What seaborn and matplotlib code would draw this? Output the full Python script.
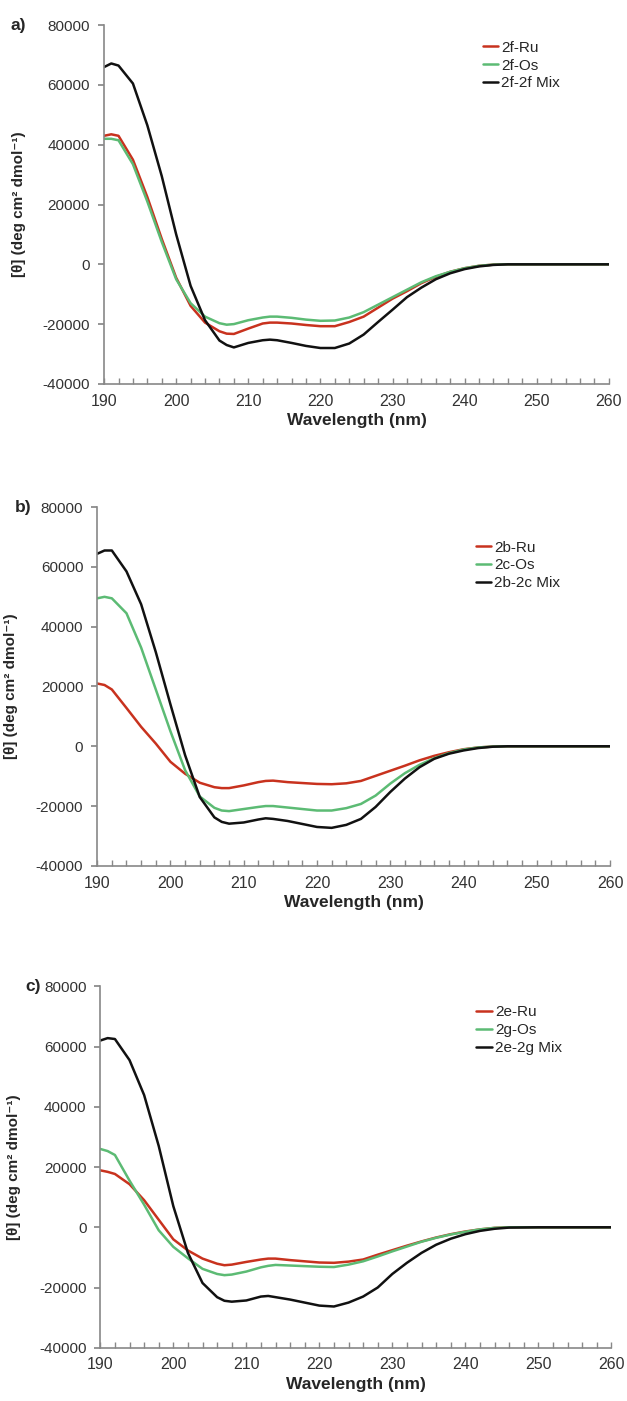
import numpy as np
import pandas as pd
import matplotlib.pyplot as plt
from matplotlib.ticker import MultipleLocator
import seaborn as sns

# wavelength grid (nm) shared by all spectra
WL = [190, 191, 192, 194, 196, 198, 200, 202, 204, 206, 207, 208, 210, 212, 213,
      214, 216, 218, 220, 222, 224, 226, 228, 230, 232, 234, 236, 238, 240, 242,
      244, 246, 250, 255, 260]

# panel a
A_RU = [43000, 43500, 43000, 35000, 22500, 8500, -4500, -13900, -19500, -22400, -23200,
        -23300, -21500, -19800, -19500, -19500, -19800, -20300, -20700, -20700, -19300,
        -17500, -14500, -11500, -9000, -6300, -4200, -2500, -1300, -500, -100, 0, 0, 0, 0]
A_OS = [42000, 42000, 41500, 33500, 21000, 7500, -5000, -13000, -17500, -19700, -20200,
        -20000, -18700, -17800, -17500, -17500, -17900, -18500, -18900, -18800, -17800,
        -16000, -13500, -11000, -8500, -6000, -4000, -2500, -1300, -500, -100, 0, 0, 0, 0]
A_MIX = [66000, 67200, 66500, 60500, 46500, 29500, 10000, -7200, -18700, -25500, -27000,
         -27800, -26300, -25400, -25200, -25400, -26300, -27300, -28000, -28000, -26500,
         -23500, -19300, -15200, -11000, -7800, -5000, -3000, -1600, -700, -200, 0, 0, 0, 0]

# panel b
B_RU = [21000, 20500, 19000, 12800, 6500, 900, -5200, -9200, -12200, -13700, -14000,
        -14000, -13100, -12000, -11600, -11500, -12000, -12300, -12600, -12700, -12400,
        -11600, -9900, -8200, -6500, -4700, -3200, -2000, -1000, -400, -100, 0, 0, 0, 0]
B_OS = [49500, 50000, 49500, 44500, 33000, 19000, 5000, -8000, -16800, -20600, -21500,
        -21700, -21000, -20300, -20000, -20000, -20500, -21000, -21500, -21500, -20700,
        -19300, -16500, -12500, -9000, -6200, -4000, -2300, -1100, -400, -100, 0, 0, 0, 0]
B_MIX = [64400, 65500, 65500, 58500, 47500, 31500, 14000, -3000, -17000, -23800, -25300,
         -25900, -25500, -24500, -24100, -24300, -25000, -26000, -27000, -27300, -26300,
         -24300, -20300, -15300, -10800, -7000, -4200, -2500, -1400, -600, -150, 0, 0, 0, 0]

# panel c
C_RU = [18900, 18400, 17700, 14300, 9000, 2500, -4000, -7700, -10400, -12100, -12600,
        -12400, -11500, -10700, -10400, -10400, -10900, -11300, -11700, -11800, -11400,
        -10700, -9100, -7600, -6100, -4700, -3400, -2300, -1400, -700, -200, 0, 0, 0, 0]
C_OS = [26000, 25300, 24000, 15500, 7500, -1000, -6500, -10300, -13800, -15500, -15900,
        -15700, -14700, -13300, -12800, -12500, -12700, -12900, -13100, -13200, -12400,
        -11300, -9700, -8000, -6400, -4800, -3500, -2400, -1500, -700, -200, 0, 0, 0, 0]
C_MIX = [62000, 62800, 62500, 55500, 43900, 27000, 7000, -8500, -18500, -23200, -24400,
         -24700, -24300, -23000, -22800, -23200, -24000, -25000, -26000, -26300, -25000,
         -23000, -20000, -15500, -11800, -8500, -5800, -3800, -2300, -1200, -500, -100, 0, 0, 0]

PANELS = [
    ("a)", ["2f-Ru", "2f-Os", "2f-2f Mix"], [A_RU, A_OS, A_MIX]),
    ("b)", ["2b-Ru", "2c-Os", "2b-2c Mix"], [B_RU, B_OS, B_MIX]),
    ("c)", ["2e-Ru", "2g-Os", "2e-2g Mix"], [C_RU, C_OS, C_MIX]),
]
COLORS = ["#c8321e", "#5cbb74", "#111111"]

sns.set_theme(style="white")
plt.rcParams["font.family"] = ["Liberation Sans", "DejaVu Sans"]
plt.rcParams["axes.unicode_minus"] = False
plt.rcParams["lines.solid_joinstyle"] = "round"

fig = plt.figure(figsize=(6.27, 14.01), dpi=100)
# axes boxes and legend heights, per panel
boxes = [(0.166, 0.726, 0.805, 0.256),
         (0.155, 0.382, 0.818, 0.256),
         (0.160, 0.038, 0.815, 0.258)]
legend_y = [0.995, 0.945, 0.985]
label_x = [0.016, 0.024, 0.040]

for (letter, names, series), box, ly, lx in zip(PANELS, boxes, legend_y, label_x):
    ax = fig.add_axes(box)
    df = pd.concat([pd.DataFrame({"wl": WL, "theta": s, "sample": n})
                    for n, s in zip(names, series)])
    sns.lineplot(data=df, x="wl", y="theta", hue="sample", hue_order=names,
                 palette=COLORS, linewidth=1.8, ax=ax)
    ax.set_xlim(190, 260)
    ax.set_ylim(-40000, 80000)
    ax.xaxis.set_major_locator(MultipleLocator(10))
    ax.xaxis.set_minor_locator(MultipleLocator(2))
    ax.yaxis.set_major_locator(MultipleLocator(20000))
    ax.tick_params(axis="x", which="both", direction="in", length=4, width=1,
                   color="#888888", bottom=True, labelsize=11.5, labelcolor="#333333", pad=7)
    ax.tick_params(axis="y", which="major", direction="out", length=4, color="#888888",
                   left=True, labelsize=11, labelcolor="#333333", pad=6)
    for side in ["top", "right"]:
        ax.spines[side].set_visible(False)
    for side in ["left", "bottom"]:
        ax.spines[side].set_color("#888888")
        ax.spines[side].set_linewidth(1.2)
    ax.set_xlabel("Wavelength (nm)", fontsize=12.5, fontweight="bold", labelpad=3)
    ax.set_ylabel("[θ] (deg cm² dmol⁻¹)", fontsize=11, fontweight="bold")
    ax.yaxis.set_label_coords(-0.155, 0.5)
    ax.legend(loc="upper right", bbox_to_anchor=(0.93, ly), frameon=False,
              fontsize=11, handlelength=1.0, handletextpad=0.2, labelspacing=0.25)
    fig.text(lx, box[1] + box[3], letter, fontsize=12.5, fontweight="bold",
             ha="left", va="center")

fig.savefig("out.png", dpi=100)
